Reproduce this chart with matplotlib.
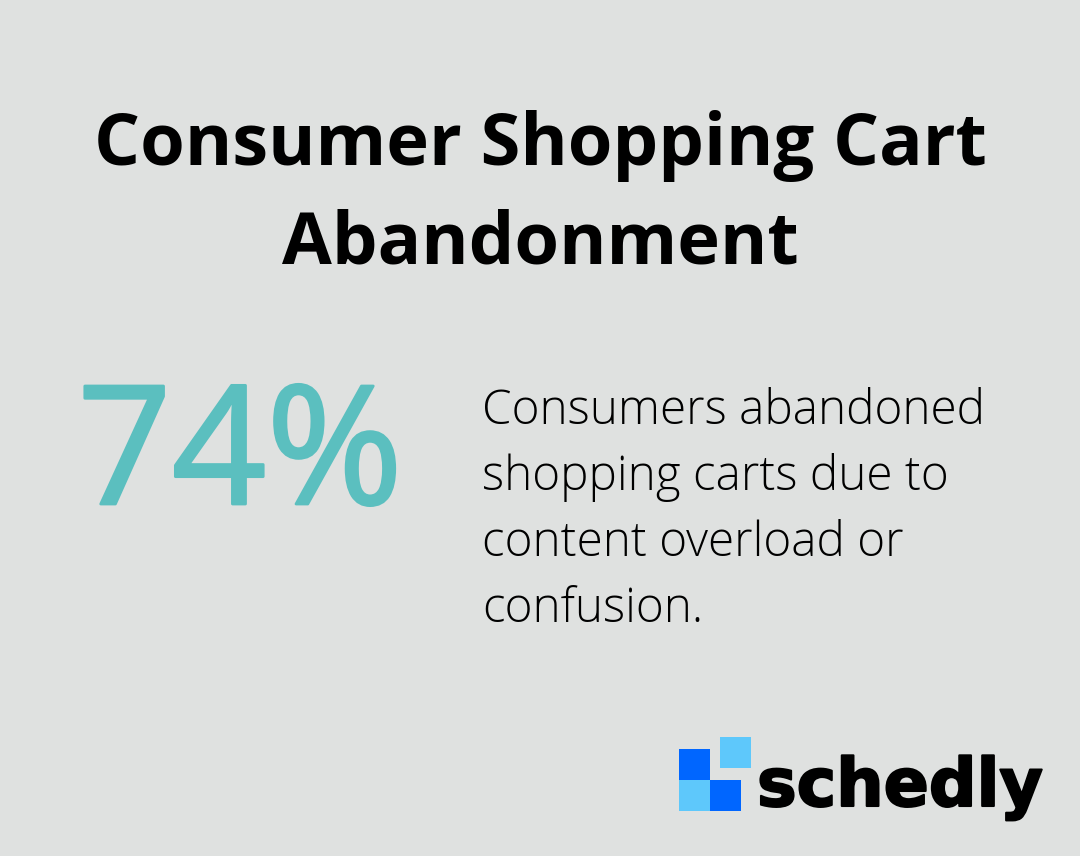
import matplotlib.pyplot as plt
import matplotlib.patheffects as pe
from matplotlib.patches import Rectangle

W, H = 1080, 856
bg = "#dfe1e0"

title_lines = ["Consumer Shopping Cart", "Abandonment"]
stat_value = "74%"
stat_text = ["Consumers abandoned", "shopping carts due to", "content overload or", "confusion."]
brand = "schedly"

fig = plt.figure(figsize=(W / 100, H / 100), dpi=100, facecolor=bg)
ax = fig.add_axes([0, 0, 1, 1])
ax.set_xlim(0, W)
ax.set_ylim(H, 0)
ax.axis("off")

font = ["Open Sans", "DejaVu Sans"]
teal = "#5bbfbf"

for i, line in enumerate(title_lines):
    ax.text(540, 165 + i * 99, line, ha="center", va="baseline",
            fontsize=52, fontweight="bold", family=font, color="black")

ax.text(240, 504, stat_value, ha="center", va="baseline",
        fontsize=119, family=font, color=teal,
        path_effects=[pe.withStroke(linewidth=2, foreground=teal)])

for i, line in enumerate(stat_text):
    ax.text(482, 424 + i * 66, line, ha="left", va="baseline",
            fontsize=34.3, fontweight="light", family=font, color="black")

# logo squares
for x, y, c in [(679, 749, "#0066ff"), (679, 780, "#5ec8fb"),
                (710, 780, "#0066ff"), (720, 737, "#5ec8fb")]:
    ax.add_patch(Rectangle((x, y), 31, 31, color=c, lw=0))

ax.text(757, 806, brand, ha="left", va="baseline",
        fontsize=48, fontweight="bold", family=["DejaVu Sans"], color="black",
        path_effects=[pe.withStroke(linewidth=1.5, foreground="black")])

fig.savefig("out.png", dpi=100, facecolor=bg)
